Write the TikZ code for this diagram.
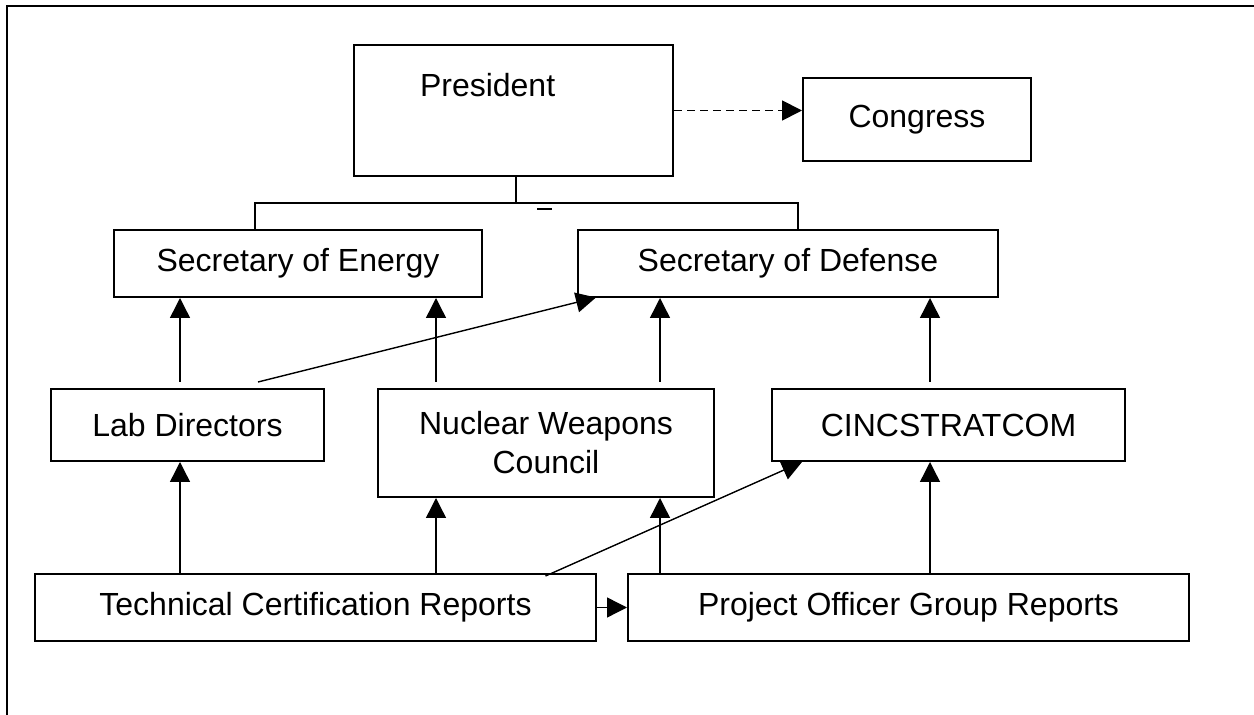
\documentclass[tikz,border=0pt]{standalone}
\usepackage{fontspec}
\setmainfont{Liberation Sans}
\usetikzlibrary{arrows.meta}

\begin{document}
\begin{tikzpicture}[x=0.5pt,y=-0.5pt,
    box/.style={draw,line width=1pt,inner sep=0pt,align=center,font=\fontsize{16}{19.5}\selectfont},
    up/.style={-{Triangle[length=10pt,width=10pt]},line width=0.7pt},
    ]

    \useasboundingbox (0,0) rectangle (1254,715);
    \draw[line width=0.8pt] (7,715) -- (7,6);      %% frame, open at right and bottom
    \draw[line width=1.2pt] (6,6) -- (1254,6);

    \node[box,align=left,inner xsep=33pt,text width=93.5pt,text height=26pt,text depth=39.5pt] (pres) at (513.5,110.5) {President};
    \node[box,minimum width=114pt,minimum height=41.5pt] (congress) at (917,119.5) {Congress};
    \node[box,minimum width=184pt,minimum height=33.5pt] (secE) at (298,263.5) {Secretary of Energy};
    \node[box,minimum width=210pt,minimum height=33.5pt] (secD) at (788,263.5) {Secretary of Defense};
    \node[box,minimum width=136.5pt,minimum height=36pt] (lab) at (187.5,425) {Lab Directors};
    \node[box,minimum width=168pt,minimum height=54pt] (nwc) at (546,443) {Nuclear Weapons\\Council};
    \node[box,minimum width=176.5pt,minimum height=36pt] (cinc) at (948.5,425) {CINCSTRATCOM};
    \node[box,minimum width=280.5pt,minimum height=33.5pt] (tcr) at (315.5,607.5) {Technical Certification Reports};
    \node[box,minimum width=280.5pt,minimum height=33.5pt] (pog) at (908.5,607.5) {Project Officer Group Reports};

    %% president down to the two secretaries
    \coordinate (bar) at (516,203);
    \draw[line width=0.9pt] ([xshift=1.25pt]pres.south) -- ([xshift=1.25pt]pres.south |- bar);
    \draw[line width=0.9pt] ([xshift=71pt]secE.north west) |- ([xshift=-100.5pt]secD.north east |- bar) -- ([xshift=-100.5pt]secD.north east);
    \draw[line width=0.9pt] ([xshift=10.5pt]bar) ++(0,6) -- ++(15,0);

    \draw[up,line width=0.9pt,dash pattern=on 4pt off 2.5pt] (pres.east) -- (pres.east -| congress.west);

    %% upper row of arrows
    \draw[up,shorten <=3pt] ([xshift=-3.75pt]lab.north) -- ([xshift=-3.75pt]lab.north |- secE.south);
    \draw[up,shorten <=3pt] ([xshift=-55pt]nwc.north) -- ([xshift=-55pt]nwc.north |- secE.south);
    \draw[up,shorten <=3pt] ([xshift=57pt]nwc.north) -- ([xshift=57pt]nwc.north |- secD.south);
    \draw[up,shorten <=3pt] ([xshift=-9.25pt]cinc.north) -- ([xshift=-9.25pt]cinc.north |- secD.south);
    \draw[up,shorten >=-1pt] ([xshift=35.25pt,yshift=3pt]lab.north) -- ([xshift=8.5pt]secD.south west);

    %% lower row of arrows
    \draw[up] ([xshift=-3.75pt]lab.south |- tcr.north) -- ([xshift=-3.75pt]lab.south);
    \draw[up] ([xshift=-55pt]nwc.south |- tcr.north) -- ([xshift=-55pt]nwc.south);
    \draw[up] ([xshift=57pt]nwc.south |- pog.north) -- ([xshift=57pt]nwc.south);
    \draw[up] ([xshift=-9.25pt]cinc.south |- pog.north) -- ([xshift=-9.25pt]cinc.south);
    \draw[up] ([xshift=115pt,yshift=-1.5pt]tcr.north) -- ([xshift=15.5pt]cinc.south west);
    \draw[up] (tcr.east) -- (pog.west);
\end{tikzpicture}
\end{document}
